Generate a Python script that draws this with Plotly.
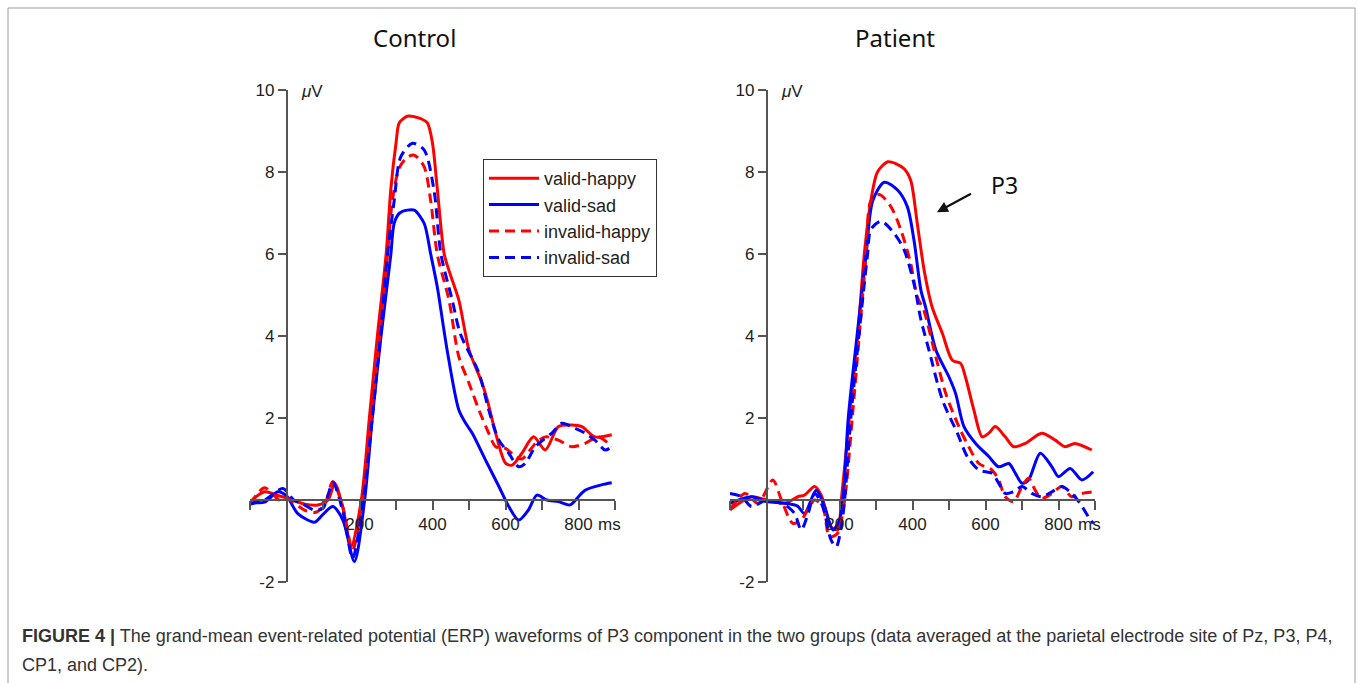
import plotly.graph_objects as go

# ---------------- data (ms, µV) ----------------
ctrl_vh_t = [-100, -60, -20, 0, 50, 86, 114, 132, 155, 177, 205, 227, 249, 273, 286, 300, 309, 331, 350, 368, 386, 400, 413, 432, 445, 472, 500, 536, 550, 573, 600, 618, 645, 677, 709, 745, 781, 809, 845, 891]
ctrl_vh_v = [-0.05, 0.2, 0.1, 0.05, -0.1, -0.12, 0.0, 0.41, -0.2, -1.14, 0.0, 2.0, 4.0, 6.0, 7.6, 8.7, 9.2, 9.36, 9.35, 9.3, 9.2, 8.7, 7.6, 6.0, 5.6, 4.88, 3.66, 2.85, 2.44, 1.63, 0.9, 0.85, 1.14, 1.54, 1.22, 1.79, 1.83, 1.79, 1.54, 1.59]

ctrl_vs_t = [-100, -60, -24, 0, 31, 77, 100, 127, 155, 186, 214, 235, 259, 286, 295, 310, 331, 350, 377, 395, 413, 440, 472, 491, 509, 545, 582, 609, 636, 663, 686, 713, 745, 777, 800, 818, 863, 891]
ctrl_vs_v = [-0.05, -0.05, 0.2, 0.1, -0.33, -0.54, -0.35, -0.16, -0.5, -1.5, 0.0, 2.0, 4.0, 6.0, 6.75, 7.0, 7.07, 7.07, 6.75, 6.0, 5.2, 3.66, 2.2, 1.87, 1.63, 0.98, 0.33, -0.16, -0.49, -0.24, 0.12, 0.0, -0.04, -0.12, 0.08, 0.24, 0.37, 0.42]

ctrl_ih_t = [-100, -60, -20, 0, 50, 80, 105, 127, 155, 181, 208, 232, 255, 277, 290, 309, 330, 350, 377, 395, 413, 445, 472, 500, 527, 554, 573, 600, 627, 645, 682, 709, 745, 781, 818, 854, 891]
ctrl_ih_v = [-0.1, 0.3, 0.0, 0.05, -0.25, -0.3, -0.1, 0.45, -0.2, -1.22, 0.0, 2.0, 4.0, 6.0, 7.3, 8.1, 8.35, 8.41, 8.13, 7.3, 6.0, 4.88, 3.5, 2.85, 2.2, 1.63, 1.3, 1.26, 1.06, 1.0, 1.38, 1.54, 1.46, 1.3, 1.38, 1.54, 1.3]

ctrl_is_t = [-100, -60, -10, 20, 45, 77, 100, 127, 155, 181, 210, 235, 257, 277, 295, 313, 345, 377, 404, 423, 454, 476, 527, 554, 582, 609, 636, 654, 682, 727, 754, 790, 818, 845, 873, 891]
ctrl_is_v = [-0.1, 0.0, 0.28, 0.0, -0.1, -0.25, -0.2, 0.42, -0.3, -1.42, 0.0, 2.0, 4.0, 6.0, 7.3, 8.37, 8.7, 8.54, 7.56, 6.0, 4.88, 4.06, 3.1, 2.2, 1.46, 1.14, 0.81, 0.89, 1.3, 1.63, 1.87, 1.75, 1.63, 1.46, 1.22, 1.3]

pat_vh_t = [-100, -41, 0, 50, 86, 104, 132, 150, 177, 195, 205, 227, 250, 268, 286, 304, 332, 355, 377, 395, 413, 432, 454, 482, 509, 532, 545, 568, 591, 609, 627, 654, 677, 709, 754, 791, 818, 845, 891]
pat_vh_v = [-0.24, 0.08, 0.0, -0.08, 0.08, 0.12, 0.33, 0.12, -0.65, -0.73, 0.0, 2.0, 4.0, 6.0, 7.3, 8.0, 8.25, 8.2, 8.08, 7.8, 6.75, 5.6, 4.7, 4.06, 3.41, 3.33, 3.0, 2.2, 1.54, 1.63, 1.79, 1.54, 1.3, 1.38, 1.63, 1.46, 1.3, 1.38, 1.22]

pat_vs_t = [-100, -41, 0, 50, 85, 104, 136, 159, 182, 200, 211, 224, 248, 273, 291, 323, 359, 386, 404, 423, 436, 464, 500, 518, 541, 573, 609, 636, 664, 682, 700, 718, 750, 782, 800, 832, 864, 895]
pat_vs_v = [-0.08, 0.08, -0.04, -0.08, -0.15, -0.33, 0.24, -0.16, -0.73, -0.49, 0.16, 2.0, 4.0, 6.0, 7.3, 7.75, 7.56, 7.15, 6.34, 5.12, 4.7, 3.66, 3.0, 2.6, 1.79, 1.38, 1.06, 0.81, 0.89, 0.65, 0.41, 0.49, 1.14, 0.81, 0.57, 0.77, 0.49, 0.69]

pat_ih_t = [-100, -59, -23, 17, 41, 72, 95, 132, 154, 173, 195, 214, 235, 254, 273, 286, 309, 341, 368, 395, 413, 432, 459, 491, 527, 554, 582, 618, 636, 654, 677, 700, 718, 736, 754, 782, 809, 836, 864, 895]
pat_ih_v = [-0.24, 0.16, -0.08, 0.49, 0.0, -0.57, -0.49, 0.0, -0.16, -0.9, -0.81, 0.0, 2.0, 4.0, 6.0, 7.3, 7.45, 7.15, 6.59, 5.77, 4.96, 4.6, 3.66, 2.6, 1.79, 1.3, 0.89, 0.73, 0.49, 0.08, -0.04, 0.33, 0.53, 0.24, 0.04, 0.16, 0.33, 0.08, 0.16, 0.2]

pat_is_t = [-100, -68, -41, 0, 50, 77, 95, 114, 132, 154, 177, 191, 205, 214, 231, 253, 277, 286, 314, 350, 377, 404, 423, 445, 482, 523, 550, 582, 618, 636, 654, 677, 700, 727, 754, 782, 809, 836, 859, 882, 895]
pat_is_v = [0.16, 0.08, -0.16, 0.0, -0.12, -0.33, -0.73, -0.33, 0.16, -0.16, -0.98, -1.14, -0.65, 0.0, 2.0, 4.0, 6.0, 6.6, 6.8, 6.5, 6.1, 5.28, 4.4, 3.66, 2.44, 1.63, 1.06, 0.73, 0.65, 0.41, 0.16, 0.2, 0.33, 0.16, 0.08, 0.2, 0.33, 0.16, -0.08, -0.41, -0.57]

conditions = ["valid-happy", "valid-sad", "invalid-happy", "invalid-sad"]
panel_titles = ["Control", "Patient"]
x_tick_vals = [-100, 0, 100, 200, 300, 400, 500, 600, 700, 800, 900]
x_tick_text = ["", "", "", "200", "", "400", "", "600", "", "800", ""]
y_tick_vals = [-2, 2, 4, 6, 8, 10]
y_tick_text = ["-2", "2", "4", "6", "8", "10"]

RED = "#ff0000"
BLUE = "#0000ff"
styles = {
    "valid-happy": dict(color=RED, dash="solid"),
    "valid-sad": dict(color=BLUE, dash="solid"),
    "invalid-happy": dict(color=RED, dash="10px,6px"),
    "invalid-sad": dict(color=BLUE, dash="10px,6px"),
}

panels = [
    {"vh": (ctrl_vh_t, ctrl_vh_v), "vs": (ctrl_vs_t, ctrl_vs_v),
     "ih": (ctrl_ih_t, ctrl_ih_v), "is": (ctrl_is_t, ctrl_is_v)},
    {"vh": (pat_vh_t, pat_vh_v), "vs": (pat_vs_t, pat_vs_v),
     "ih": (pat_ih_t, pat_ih_v), "is": (pat_is_t, pat_is_v)},
]
keys = ["vh", "vs", "ih", "is"]

W, H = 1358, 683
x_px = [(250, 615), (730, 1095)]
y_px = (90, 582)
XR = [-100, 900]
YR = [-2, 10]

fig = go.Figure()
FONT = "Liberation Sans, Arial, sans-serif"
TXT = "#222222"
AX = "#555555"

layout = dict(
    width=W, height=H, margin=dict(l=0, r=0, t=0, b=0, pad=0, autoexpand=False),
    paper_bgcolor="white", plot_bgcolor="rgba(0,0,0,0)",
    showlegend=True, autosize=False,
    legend=dict(
        x=483 / W, y=1 - 159 / H, xanchor="left", yanchor="top",
        bordercolor="#333333", borderwidth=1, bgcolor="white",
        font=dict(family=FONT, size=18, color=TXT),
        tracegroupgap=0, itemwidth=50,
    ),
)

ydom = [1 - y_px[1] / H, 1 - y_px[0] / H]
zero_paper = ydom[0] + (0 - YR[0]) / (YR[1] - YR[0]) * (ydom[1] - ydom[0])

annotations = []
for i, panel in enumerate(panels):
    xa = "x" if i == 0 else "x2"
    ya = "y" if i == 0 else "y2"
    xdom = [x_px[i][0] / W, x_px[i][1] / W]
    zero_x_paper = xdom[0] + (0 - XR[0]) / (XR[1] - XR[0]) * (xdom[1] - xdom[0])
    for k, cond in zip(keys, conditions):
        t, v = panel[k]
        st = styles[cond]
        fig.add_trace(go.Scatter(
            x=t, y=v, mode="lines", name=cond, legendgroup=cond,
            showlegend=(i == 0),
            line=dict(color=st["color"], dash=st["dash"], width=3, shape="spline", smoothing=0.8),
            xaxis=xa, yaxis=ya,
        ))
    xkey = "xaxis" if i == 0 else "xaxis2"
    ykey = "yaxis" if i == 0 else "yaxis2"
    layout[xkey] = dict(
        domain=xdom, range=XR, anchor="free", position=zero_paper, automargin=False,
        showgrid=False, zeroline=False, showline=True, linecolor=AX, linewidth=1.5,
        ticks="outside", ticklen=9, tickwidth=1.5, tickcolor=AX,
        tickvals=x_tick_vals, ticktext=x_tick_text,
        tickfont=dict(family=FONT, size=17, color=TXT),
    )
    layout[ykey] = dict(
        domain=ydom, range=YR, anchor="free", position=zero_x_paper, automargin=False,
        showgrid=False, zeroline=False, showline=True, linecolor=AX, linewidth=1.5,
        ticks="outside", ticklen=8, tickwidth=1.5, tickcolor=AX,
        tickvals=y_tick_vals, ticktext=y_tick_text,
        tickfont=dict(family=FONT, size=17, color=TXT),
    )
    annotations.append(dict(
        x=800, y=0, xref=xa, yref=ya, xanchor="left", yanchor="top",
        xshift=17, yshift=-13, text="ms", showarrow=False,
        font=dict(family=FONT, size=17, color=TXT),
    ))
    annotations.append(dict(
        x=0, y=10, xref=xa, yref=ya, xanchor="left", yanchor="middle",
        xshift=12, yshift=-1, text="<i>μ</i>V", showarrow=False,
        font=dict(family=FONT, size=17, color=TXT),
    ))
    annotations.append(dict(
        x=(xdom[0] + xdom[1]) / 2 + (165 - 182.5) / W, y=1 - 38 / H,
        xref="paper", yref="paper", xanchor="center", yanchor="middle",
        text=panel_titles[i], showarrow=False,
        font=dict(family="Noto Sans, sans-serif", size=24, color="#111111"),
    ))

annotations.append(dict(
    x=467, y=7.02, xref="x2", yref="y2", ax=37, ay=-20, text=" ",
    showarrow=True, arrowhead=2, arrowsize=1, arrowwidth=2.2, arrowcolor="#111111",
    standoff=0, startstandoff=0,
))
annotations.append(dict(
    x=1004 / W, y=1 - 185 / H, xref="paper", yref="paper",
    xanchor="center", yanchor="middle", text="P3", showarrow=False,
    font=dict(family="Noto Sans, sans-serif", size=23, color="#111111"),
))

annotations.append(dict(
    x=20 / W, y=1 - 636 / H, xref="paper", yref="paper", xanchor="left", yanchor="middle",
    text="<b>FIGURE 4 |</b> The grand-mean event-related potential (ERP) waveforms of P3 component in the two groups (data averaged at the parietal electrode site of Pz, P3, P4,",
    showarrow=False, font=dict(family=FONT, size=18, color="#333333"),
))
annotations.append(dict(
    x=20 / W, y=1 - 665 / H, xref="paper", yref="paper", xanchor="left", yanchor="middle",
    text="CP1, and CP2).", showarrow=False,
    font=dict(family=FONT, size=18, color="#333333"),
))

layout["annotations"] = annotations
layout["shapes"] = [dict(
    type="rect", xref="paper", yref="paper",
    x0=8 / W, x1=1355 / W, y0=-0.05, y1=1 - 8 / H,
    line=dict(color="#9a9a9a", width=1), layer="below",
)]

fig.update_layout(**layout)
fig.write_html(
    "out.html",
    config={"responsive": False, "displayModeBar": False},
    post_script="document.body.style.margin='0';document.body.style.padding='0';document.body.style.overflow='hidden';",
)
